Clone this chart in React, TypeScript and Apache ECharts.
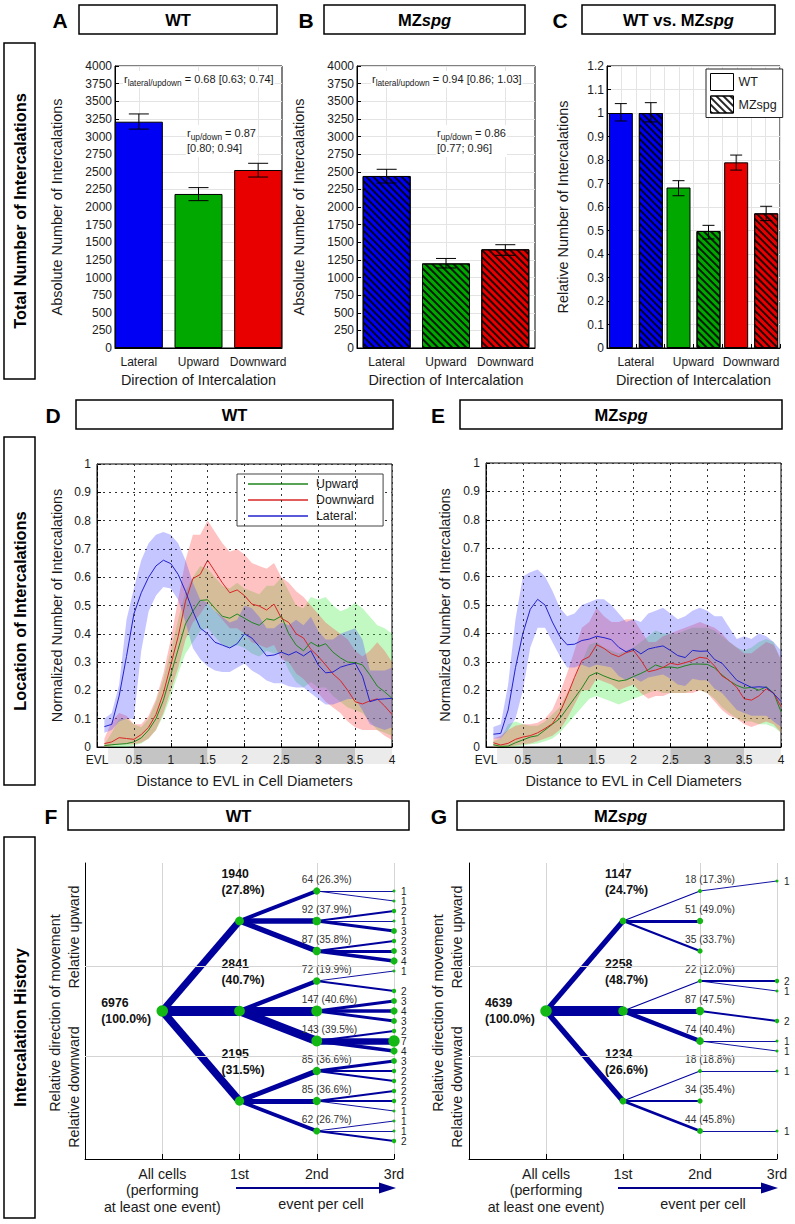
import React, { useEffect, useRef } from 'react';
import * as echarts from 'echarts';

const FONT = '"Liberation Sans", Arial, Helvetica, sans-serif';

// ---------------- Panels A–C : total number of intercalations ----------------
const directions = ['Lateral', 'Upward', 'Downward'];
const dirColors = ['#0000f5', '#00a800', '#e80000'];
const wtAbs = [3210, 2185, 2525];
const wtAbsLow = [3105, 2090, 2425];
const wtAbsHigh = [3320, 2275, 2620];
const mzAbs = [2440, 1200, 1400];
const mzAbsLow = [2340, 1135, 1315];
const mzAbsHigh = [2535, 1270, 1465];
const wtRel = [1.0, 0.683, 0.79];
const wtRelLow = [0.966, 0.648, 0.757];
const wtRelHigh = [1.04, 0.712, 0.821];
const mzRel = [1.0, 0.498, 0.573];
const mzRelLow = [0.962, 0.464, 0.542];
const mzRelHigh = [1.044, 0.522, 0.603];
const ratioWT = ['0.68 [0.63; 0.74]', '0.87', '[0.80; 0.94]'];
const ratioMZ = ['0.94 [0.86; 1.03]', '0.86', '[0.77; 0.96]'];

// ---------------- Panels D–E : location of intercalations ----------------
const distX = [0.1, 0.2, 0.3, 0.4, 0.5, 0.6, 0.7, 0.8, 0.9, 1.0, 1.1, 1.2, 1.3, 1.4, 1.5, 1.6, 1.7, 1.8, 1.9, 2.0,
  2.1, 2.2, 2.3, 2.4, 2.5, 2.6, 2.7, 2.8, 2.9, 3.0, 3.1, 3.2, 3.3, 3.4, 3.5, 3.6, 3.7, 3.8, 3.9, 4.0];
const stripSegments = [[0.15, 0.5, 0], [0.5, 1.5, 1], [1.5, 2.5, 0], [2.5, 3.5, 1], [3.5, 4, 0]];

// WT (D)
const dUpMean = [0.005, 0.008, 0.01, 0.012, 0.018, 0.032, 0.06, 0.1, 0.165, 0.255, 0.345, 0.435, 0.48, 0.518, 0.52, 0.49, 0.462, 0.455, 0.47, 0.455,
  0.44, 0.43, 0.453, 0.448, 0.463, 0.40, 0.36, 0.34, 0.37, 0.355, 0.365, 0.335, 0.315, 0.30, 0.298, 0.29, 0.255, 0.215, 0.195, 0.172];
const dUpLow = [0, 0, 0, 0, 0.005, 0.012, 0.03, 0.06, 0.11, 0.18, 0.26, 0.33, 0.37, 0.41, 0.42, 0.39, 0.36, 0.35, 0.36, 0.35,
  0.33, 0.32, 0.34, 0.33, 0.33, 0.27, 0.23, 0.21, 0.23, 0.21, 0.21, 0.18, 0.16, 0.14, 0.13, 0.12, 0.09, 0.06, 0.05, 0.04];
const dUpHigh = [0.01, 0.05, 0.10, 0.10, 0.08, 0.07, 0.10, 0.16, 0.24, 0.34, 0.45, 0.55, 0.60, 0.64, 0.63, 0.60, 0.57, 0.56, 0.58, 0.56,
  0.55, 0.54, 0.57, 0.57, 0.60, 0.55, 0.50, 0.49, 0.53, 0.52, 0.53, 0.50, 0.48, 0.49, 0.51, 0.49, 0.46, 0.43, 0.42, 0.40];
const dDownMean = [0.012, 0.018, 0.033, 0.03, 0.027, 0.044, 0.07, 0.115, 0.19, 0.29, 0.39, 0.515, 0.595, 0.61, 0.66, 0.62, 0.58, 0.545, 0.555, 0.535,
  0.505, 0.498, 0.484, 0.505, 0.455, 0.44, 0.40, 0.385, 0.345, 0.32, 0.29, 0.258, 0.235, 0.2, 0.16, 0.152, 0.163, 0.17, 0.145, 0.115];
const dDownLow = [0, 0.005, 0.01, 0.01, 0.01, 0.015, 0.03, 0.06, 0.12, 0.20, 0.28, 0.38, 0.44, 0.47, 0.51, 0.48, 0.45, 0.42, 0.42, 0.40,
  0.37, 0.36, 0.35, 0.36, 0.31, 0.30, 0.26, 0.24, 0.21, 0.19, 0.16, 0.14, 0.12, 0.09, 0.07, 0.06, 0.06, 0.06, 0.04, 0.025];
const dDownHigh = [0.03, 0.09, 0.12, 0.11, 0.08, 0.08, 0.11, 0.17, 0.26, 0.38, 0.52, 0.66, 0.75, 0.75, 0.80, 0.76, 0.72, 0.69, 0.70, 0.68,
  0.65, 0.64, 0.63, 0.65, 0.60, 0.58, 0.55, 0.53, 0.50, 0.47, 0.44, 0.42, 0.40, 0.38, 0.34, 0.32, 0.34, 0.37, 0.34, 0.30];
const dLatMean = [0.072, 0.08, 0.18, 0.32, 0.47, 0.545, 0.60, 0.64, 0.66, 0.648, 0.61, 0.55, 0.48, 0.42, 0.40, 0.37, 0.36, 0.35, 0.365, 0.40,
  0.385, 0.355, 0.322, 0.325, 0.335, 0.325, 0.337, 0.322, 0.34, 0.29, 0.262, 0.265, 0.282, 0.29, 0.296, 0.25, 0.16, 0.168, 0.17, 0.172];
const dLatLow = [0.05, 0.06, 0.09, 0.10, 0.10, 0.34, 0.48, 0.535, 0.565, 0.56, 0.52, 0.44, 0.35, 0.31, 0.285, 0.27, 0.265, 0.265, 0.28, 0.295,
  0.27, 0.255, 0.235, 0.225, 0.225, 0.215, 0.21, 0.21, 0.19, 0.17, 0.15, 0.15, 0.16, 0.17, 0.17, 0.13, 0.08, 0.07, 0.06, 0.07];
const dLatHigh = [0.10, 0.12, 0.22, 0.45, 0.56, 0.66, 0.72, 0.75, 0.76, 0.75, 0.72, 0.66, 0.58, 0.52, 0.51, 0.48, 0.46, 0.44, 0.45, 0.50,
  0.49, 0.46, 0.42, 0.42, 0.44, 0.43, 0.45, 0.43, 0.46, 0.41, 0.38, 0.38, 0.40, 0.41, 0.42, 0.38, 0.27, 0.27, 0.27, 0.28];

// MZspg (E)
const eUpMean = [0.008, 0.002, 0.003, 0.015, 0.025, 0.035, 0.04, 0.06, 0.08, 0.1, 0.136, 0.172, 0.208, 0.25, 0.262, 0.25, 0.24, 0.232, 0.236, 0.248,
  0.259, 0.272, 0.289, 0.28, 0.282, 0.278, 0.286, 0.292, 0.292, 0.291, 0.278, 0.254, 0.233, 0.217, 0.207, 0.21, 0.2, 0.212, 0.19, 0.124];
const eUpLow = [0, 0, 0, 0, 0.005, 0.01, 0.012, 0.02, 0.03, 0.05, 0.08, 0.11, 0.14, 0.17, 0.18, 0.17, 0.16, 0.15, 0.16, 0.17,
  0.18, 0.19, 0.2, 0.19, 0.19, 0.19, 0.19, 0.2, 0.2, 0.19, 0.17, 0.14, 0.12, 0.1, 0.09, 0.09, 0.08, 0.08, 0.07, 0.05];
const eUpHigh = [0.02, 0.03, 0.08, 0.09, 0.08, 0.075, 0.075, 0.09, 0.115, 0.14, 0.19, 0.24, 0.3, 0.36, 0.37, 0.35, 0.34, 0.33, 0.34, 0.35,
  0.37, 0.39, 0.41, 0.4, 0.4, 0.40, 0.41, 0.42, 0.42, 0.42, 0.41, 0.39, 0.37, 0.35, 0.34, 0.35, 0.37, 0.38, 0.37, 0.3];
const eDownMean = [0.015, 0.007, 0.013, 0.027, 0.035, 0.04, 0.05, 0.065, 0.082, 0.12, 0.18, 0.245, 0.305, 0.318, 0.36, 0.347, 0.328, 0.318, 0.332, 0.34,
  0.306, 0.265, 0.271, 0.28, 0.295, 0.29, 0.297, 0.305, 0.316, 0.312, 0.285, 0.25, 0.234, 0.21, 0.17, 0.165, 0.18, 0.205, 0.19, 0.142];
const eDownLow = [0, 0, 0, 0.005, 0.01, 0.012, 0.02, 0.03, 0.04, 0.06, 0.1, 0.15, 0.2, 0.2, 0.24, 0.23, 0.22, 0.2, 0.21, 0.22,
  0.19, 0.17, 0.18, 0.18, 0.19, 0.19, 0.19, 0.19, 0.2, 0.19, 0.16, 0.13, 0.11, 0.1, 0.08, 0.07, 0.08, 0.09, 0.08, 0.05];
const eDownHigh = [0.03, 0.04, 0.06, 0.075, 0.08, 0.08, 0.085, 0.1, 0.13, 0.19, 0.26, 0.34, 0.42, 0.44, 0.49, 0.46, 0.44, 0.44, 0.45, 0.45,
  0.41, 0.37, 0.37, 0.39, 0.40, 0.41, 0.42, 0.43, 0.44, 0.43, 0.42, 0.40, 0.37, 0.35, 0.33, 0.33, 0.35, 0.37, 0.36, 0.31];
const eLatMean = [0.045, 0.048, 0.13, 0.28, 0.40, 0.485, 0.52, 0.50, 0.44, 0.39, 0.36, 0.362, 0.375, 0.38, 0.39, 0.385, 0.378, 0.351, 0.335, 0.346,
  0.328, 0.345, 0.351, 0.356, 0.34, 0.322, 0.315, 0.34, 0.337, 0.338, 0.308, 0.295, 0.265, 0.235, 0.222, 0.21, 0.212, 0.21, 0.188, 0.16];
const eLatLow = [0.03, 0.03, 0.06, 0.10, 0.20, 0.35, 0.42, 0.42, 0.37, 0.32, 0.28, 0.28, 0.29, 0.28, 0.29, 0.285, 0.28, 0.25, 0.235, 0.245,
  0.23, 0.245, 0.25, 0.255, 0.24, 0.22, 0.215, 0.24, 0.235, 0.235, 0.205, 0.19, 0.16, 0.13, 0.12, 0.11, 0.11, 0.11, 0.09, 0.07];
const eLatHigh = [0.07, 0.08, 0.22, 0.45, 0.60, 0.615, 0.625, 0.60, 0.55, 0.49, 0.46, 0.47, 0.50, 0.51, 0.52, 0.52, 0.50, 0.47, 0.44, 0.45,
  0.44, 0.47, 0.48, 0.49, 0.47, 0.45, 0.46, 0.48, 0.49, 0.48, 0.46, 0.46, 0.42, 0.38, 0.39, 0.38, 0.40, 0.39, 0.37, 0.34];

// ---------------- Panels F–G : intercalation history ----------------
const eventLabels = ['', 'All cells\n(performing\nat least one event)', '1st', '2nd', '3rd'];
const wtRoot = 6976;
const wtL1 = [1940, 2841, 2195];
const wtL1Pct = [27.8, 40.7, 31.5];
const wtL2 = [64, 92, 87, 72, 147, 143, 85, 85, 62];
const wtL2Pct = [26.3, 37.9, 35.8, 19.9, 40.6, 39.5, 36.6, 36.6, 26.7];
const wtL3 = [0, 1, 1, 2, 1, 3, 2, 3, 4, 1, 0, 2, 3, 4, 3, 2, 7, 4, 3, 2, 2, 2, 2, 1, 1, 1, 2];
const mzRoot = 4639;
const mzL1 = [1147, 2258, 1234];
const mzL1Pct = [24.7, 48.7, 26.6];
const mzL2 = [18, 51, 35, 22, 87, 74, 18, 34, 44];
const mzL2Pct = [17.3, 49.0, 33.7, 12.0, 47.5, 40.4, 18.8, 35.4, 45.8];
const mzL3 = [1, 0, 0, 0, 0, 0, 0, 0, 0, 0, 2, 1, 0, 0, 2, 0, 1, 1, 0, 1, 0, 0, 0, 0, 0, 1, 0];

// ------------------------------------------------------------------
const TXT = '#1a1a1a';
const hatch = {
  symbol: 'rect', symbolSize: 1, color: 'rgba(0,0,0,0.85)',
  dashArrayX: [1, 0], dashArrayY: [1.1, 2.6], rotation: Math.PI / 4,
};

const errRender = (half: number, off: number) => (params: any, api: any) => {
  const x = api.value(0);
  const lo = api.coord([x, api.value(1)]);
  const hi = api.coord([x, api.value(2)]);
  const cx = lo[0] + off;
  const st = { stroke: '#000', lineWidth: 1 };
  return {
    type: 'group',
    children: [
      { type: 'line', shape: { x1: cx, y1: lo[1], x2: cx, y2: hi[1] }, style: st },
      { type: 'line', shape: { x1: cx - half, y1: hi[1], x2: cx + half, y2: hi[1] }, style: st },
      { type: 'line', shape: { x1: cx - half, y1: lo[1], x2: cx + half, y2: lo[1] }, style: st },
    ],
  };
};

const bandRender = (fill: string) => (params: any, api: any) => {
  if (params.dataIndex !== 0) return null;
  const n = params.dataInsideLength;
  const up: number[][] = [];
  const lo: number[][] = [];
  for (let i = 0; i < n; i++) {
    const x = api.value(0, i);
    up.push(api.coord([x, api.value(2, i)]));
    lo.push(api.coord([x, api.value(1, i)]));
  }
  return { type: 'polygon', shape: { points: up.concat(lo.reverse()) }, style: { fill, stroke: 'none' } };
};

const stripRender = (params: any, api: any) => {
  const a = api.coord([api.value(0), 1]);
  const b = api.coord([api.value(1), 0]);
  return {
    type: 'rect',
    shape: { x: a[0], y: a[1], width: b[0] - a[0], height: b[1] - a[1] },
    style: { fill: api.value(2) ? '#c4c4c4' : '#ebebeb' },
  };
};

const LEVEL_STEP = [9, 3, 1];
function buildTree(prefix: string, root: number, l1: number[], l1p: number[], l2: number[], l2p: number[], l3: number[]) {
  const nodes: any[] = [];
  const links: any[] = [];
  const maxL1 = Math.max(...l1);
  const dir = (j: number) => 1 - j;
  const baseLabel = { show: true, position: 'inside', align: 'left', verticalAlign: 'middle', fontFamily: FONT };
  const l1Label = { ...baseLabel, fontSize: 12.3, fontWeight: 'bold', lineHeight: 15.5, color: '#111' };
  nodes.push({
    name: prefix + 'root', value: [0, 0], symbolSize: 11.5,
    label: { ...l1Label, lineHeight: 16, formatter: `${root}\n(100.0%)`, offset: [-61, 0] },
  });
  l1.forEach((c1, i) => {
    const y1 = LEVEL_STEP[0] * dir(i);
    const n1 = nodes.length;
    nodes.push({
      name: prefix + 'a' + i, value: [1, y1], symbolSize: 0.2 * Math.sqrt(c1),
      label: { ...l1Label, formatter: `${c1}\n(${l1p[i].toFixed(1)}%)`, offset: [-18, -39] },
    });
    links.push({ source: 0, target: n1, lineStyle: { width: (10 * c1) / maxL1 } });
    for (let j = 0; j < 3; j++) {
      const k = i * 3 + j;
      const c2 = l2[k];
      const y2 = y1 + LEVEL_STEP[1] * dir(j);
      const n2 = nodes.length;
      nodes.push({
        name: prefix + 'b' + k, value: [2, y2], symbolSize: 0.9 * Math.sqrt(c2),
        label: { ...baseLabel, fontSize: 10.2, color: '#333', formatter: `${c2} (${l2p[k].toFixed(1)}%)`, offset: [-15, -12] },
      });
      links.push({ source: n1, target: n2, lineStyle: { width: Math.max(0.8, 0.06 * c2) } });
      for (let m = 0; m < 3; m++) {
        const c3 = l3[k * 3 + m];
        if (!c3) continue;
        const y3 = y2 + LEVEL_STEP[2] * dir(m);
        const n3 = nodes.length;
        nodes.push({
          name: prefix + 'c' + k + '_' + m, value: [3, y3], symbolSize: 1.6 + 1.4 * c3,
          label: { ...baseLabel, fontSize: 10, color: '#222', formatter: String(c3), offset: [7, 0] },
        });
        links.push({ source: n2, target: n3, lineStyle: { width: Math.max(0.8, 0.93 * c3) } });
      }
    }
  });
  return { nodes, links };
}

function buildOption() {
  const tick = { color: TXT, fontSize: 12, fontFamily: FONT };
  const nameStyle = { color: TXT, fontSize: 14.4, fontFamily: FONT };
  const axLine = { show: true, onZero: false, lineStyle: { color: '#000', width: 1 } };
  const inTick = { show: true, inside: true, length: 4, lineStyle: { color: '#000' } };
  const lightSplit = { show: true, lineStyle: { color: '#e4e4e4', width: 1 } };
  const dotSplit = { show: true, lineStyle: { color: '#333', width: 1, type: [2, 4] } };

  const gridBox = { show: true, borderColor: '#000', borderWidth: 1, backgroundColor: 'transparent', outerBoundsMode: 'none', containLabel: false };
  const gridPlain = { show: false, outerBoundsMode: 'none', containLabel: false };
  const grid = [
    { ...gridBox, left: 115, top: 66, width: 167, height: 282 }, // 0 A
    { ...gridBox, left: 357, top: 66, width: 178, height: 282 }, // 1 B
    { ...gridBox, left: 607, top: 66, width: 173, height: 282 }, // 2 C
    { ...gridBox, left: 97, top: 464, width: 295, height: 283 }, // 3 D
    { ...gridPlain, left: 97, top: 747, width: 295, height: 17 }, // 4 D strip
    { ...gridBox, left: 486, top: 463, width: 295, height: 284 }, // 5 E
    { ...gridPlain, left: 486, top: 747, width: 295, height: 17 }, // 6 E strip
    { ...gridPlain, left: 85, top: 863, width: 309, height: 296 }, // 7 F
    { ...gridPlain, left: 469, top: 863, width: 308, height: 296 }, // 8 G
  ];

  const catLabel = (v: number) => directions[Math.round(v) - 1] ?? '';
  const barX = (gridIndex: number, min: number, max: number, fineGrid: boolean) => ({
    type: 'value', gridIndex, min, max,
    ...(fineGrid ? { interval: 0.25 } : {}),
    name: 'Direction of Intercalation', nameLocation: 'middle', nameGap: 24.5, nameTextStyle: nameStyle, nameMoveOverlap: false,
    axisLine: axLine,
    axisTick: fineGrid ? inTick : { ...inTick, customValues: [1, 2, 3] },
    axisLabel: { ...tick, margin: 8, customValues: [1, 2, 3], formatter: catLabel },
    splitLine: lightSplit,
  });
  const valY = (gridIndex: number, max: number, interval: number, name: string, nameGap: number, split: any, margin: number) => ({
    type: 'value', gridIndex, min: 0, max, interval,
    name, nameLocation: 'middle', nameGap, nameTextStyle: nameStyle, nameMoveOverlap: false,
    axisLine: axLine, axisTick: inTick,
    axisLabel: { ...tick, margin, formatter: (v: number) => String(Math.round(v * 1000) / 1000) },
    splitLine: split,
  });
  const distXAxis = (gridIndex: number) => ({
    type: 'value', gridIndex, min: 0, max: 4, interval: 0.5, z: 5,
    name: 'Distance to EVL in Cell Diameters', nameLocation: 'middle', nameGap: 26.5, nameTextStyle: nameStyle, nameMoveOverlap: false,
    axisLine: axLine, axisTick: inTick,
    axisLabel: { ...tick, margin: 7, formatter: (v: number) => (v === 0 ? 'EVL' : String(v)) },
    splitLine: dotSplit,
  });
  const hidden = (gridIndex: number, min: number, max: number) => ({ type: 'value', gridIndex, min, max, show: false });
  const eventXAxis = (gridIndex: number) => ({
    type: 'value', gridIndex, min: -1, max: 3, interval: 1,
    axisLine: axLine, axisTick: { ...inTick, length: 5 },
    axisLabel: { color: TXT, fontFamily: FONT, fontSize: 14.2, lineHeight: 16.3, margin: 7, formatter: (v: number) => eventLabels[Math.round(v) + 1] ?? '' },
    splitLine: { show: true, lineStyle: { color: '#d4d4d4', width: 1 } },
  });
  const eventYAxis = (gridIndex: number) => ({
    type: 'value', gridIndex, min: -14.8, max: 14.8,
    axisLine: axLine, axisTick: { show: false }, axisLabel: { show: false }, splitLine: { show: false },
  });

  const xAxis = [
    barX(0, 0.6, 3.4, false),
    barX(1, 0.5, 3.5, false),
    barX(2, 0.5, 3.5, true),
    distXAxis(3),
    hidden(4, 0, 4),
    distXAxis(5),
    hidden(6, 0, 4),
    eventXAxis(7),
    eventXAxis(8),
  ];
  const yAxis = [
    valY(0, 4000, 250, 'Absolute Number of Intercalations', 51, lightSplit, 3),
    valY(1, 4000, 250, 'Absolute Number of Intercalations', 51, lightSplit, 3),
    valY(2, 1.2, 0.1, 'Relative Number of Intercalations', 37, lightSplit, 3),
    valY(3, 1, 0.1, 'Normalized Number of Intercalations', 33, dotSplit, 6),
    hidden(4, 0, 1),
    valY(5, 1, 0.1, 'Normalized Number of Intercalations', 34, dotSplit, 6),
    hidden(6, 0, 1),
    eventYAxis(7),
    eventYAxis(8),
  ];

  const series: any[] = [];
  const barSeries = (name: string, axis: number, vals: number[], width: number, decal: any) => ({
    type: 'bar', name, xAxisIndex: axis, yAxisIndex: axis, barWidth: width, barGap: '25%', z: 2,
    itemStyle: { borderColor: '#000', borderWidth: 1, ...(decal ? { decal } : {}) },
    data: vals.map((v, i) => ({
      value: [i + 1, v],
      itemStyle: { color: dirColors[i], borderColor: '#000', borderWidth: 1, ...(decal ? { decal } : {}) },
    })),
  });
  const errSeries = (axis: number, lo: number[], hi: number[], half: number, off: number) => ({
    type: 'custom', xAxisIndex: axis, yAxisIndex: axis, z: 4, silent: true,
    renderItem: errRender(half, off),
    encode: { x: 0, y: [1, 2] },
    data: lo.map((l, i) => [i + 1, l, hi[i]]),
  });
  series.push(barSeries('WT total', 0, wtAbs, 48, null));
  series.push(errSeries(0, wtAbsLow, wtAbsHigh, 10, 0));
  series.push(barSeries('MZspg total', 1, mzAbs, 48, hatch));
  series.push(errSeries(1, mzAbsLow, mzAbsHigh, 10, 0));
  series.push(barSeries('WT', 2, wtRel, 24, null));
  series.push(barSeries('MZspg', 2, mzRel, 24, hatch));
  series.push(errSeries(2, wtRelLow, wtRelHigh, 6, -15));
  series.push(errSeries(2, mzRelLow, mzRelHigh, 6, 15));

  const lineCols = { Upward: '#1f861f', Downward: '#d82626', Lateral: '#2222cc' } as Record<string, string>;
  const bandCols = { Upward: 'rgba(70,235,70,0.33)', Downward: 'rgba(255,70,70,0.33)', Lateral: 'rgba(80,80,255,0.33)' } as Record<string, string>;
  const addLoc = (axis: number, sets: [string, number[], number[], number[]][]) => {
    sets.forEach(([name, , lo, hi]) => {
      series.push({
        type: 'custom', xAxisIndex: axis, yAxisIndex: axis, z: 1, silent: true, clip: true,
        renderItem: bandRender(bandCols[name]),
        encode: { x: 0, y: [1, 2] },
        data: distX.map((x, i) => [x, lo[i], hi[i]]),
      });
    });
    sets.forEach(([name, mean]) => {
      series.push({
        type: 'line', name, xAxisIndex: axis, yAxisIndex: axis, z: 3, silent: true,
        symbol: 'none', showSymbol: false,
        lineStyle: { color: lineCols[name], width: 1 }, itemStyle: { color: lineCols[name] },
        data: distX.map((x, i) => [x, mean[i]]),
      });
    });
  };
  addLoc(3, [
    ['Upward', dUpMean, dUpLow, dUpHigh],
    ['Downward', dDownMean, dDownLow, dDownHigh],
    ['Lateral', dLatMean, dLatLow, dLatHigh],
  ]);
  addLoc(5, [
    ['Upward', eUpMean, eUpLow, eUpHigh],
    ['Downward', eDownMean, eDownLow, eDownHigh],
    ['Lateral', eLatMean, eLatLow, eLatHigh],
  ]);
  [4, 6].forEach((axis) => {
    series.push({
      type: 'custom', xAxisIndex: axis, yAxisIndex: axis, z: 0, silent: true,
      renderItem: stripRender, encode: { x: [0, 1] }, data: stripSegments,
    });
  });

  const groupBound = LEVEL_STEP[0] / 2;
  const addTree = (axis: number, prefix: string, tree: { nodes: any[]; links: any[] }) => {
    series.push({
      type: 'line', xAxisIndex: axis, yAxisIndex: axis, data: [[-1, 0]], symbol: 'none', showSymbol: false,
      lineStyle: { opacity: 0 }, silent: true, z: 1,
      markLine: {
        silent: true, symbol: ['none', 'none'], label: { show: false },
        lineStyle: { color: '#d4d4d4', type: 'solid', width: 1 },
        data: [{ yAxis: groupBound }, { yAxis: -groupBound }],
      },
    });
    series.push({
      type: 'graph', name: prefix + 'tree', coordinateSystem: 'cartesian2d', xAxisIndex: axis, yAxisIndex: axis,
      layout: 'none', silent: true, z: 3, symbol: 'circle',
      itemStyle: { color: '#14b814' },
      lineStyle: { color: '#00009c', opacity: 1, curveness: 0 },
      emphasis: { disabled: true },
      data: tree.nodes, links: tree.links,
    });
  };
  addTree(7, 'F', buildTree('F', wtRoot, wtL1, wtL1Pct, wtL2, wtL2Pct, wtL3));
  addTree(8, 'G', buildTree('G', mzRoot, mzL1, mzL1Pct, mzL2, mzL2Pct, mzL3));

  const legend = [
    {
      orient: 'vertical', left: 706, top: 69, padding: [4, 6, 4, 4], itemGap: 4.5, itemWidth: 23, itemHeight: 17,
      icon: 'rect', selectedMode: false, borderColor: '#222', borderWidth: 1, backgroundColor: '#fff',
      textStyle: { fontSize: 12.5, color: TXT, fontFamily: FONT },
      data: [
        { name: 'WT', itemStyle: { color: '#fff', borderColor: '#000', borderWidth: 1 } },
        { name: 'MZspg', itemStyle: { color: '#fff', borderColor: '#000', borderWidth: 1, decal: hatch } },
      ],
    },
    {
      orient: 'vertical', left: 237, top: 474, padding: [4, 9, 4, 11], itemGap: 4, itemWidth: 60, itemHeight: 1.3,
      icon: 'rect', selectedMode: false, borderColor: '#444', borderWidth: 1, backgroundColor: '#fff',
      textStyle: { fontSize: 12.3, color: TXT, fontFamily: FONT, padding: [0, 0, 0, 3] },
      data: ['Upward', 'Downward', 'Lateral'],
    },
  ];

  // ---------- graphic decorations ----------
  const g: any[] = [];
  const box = (x: number, y: number, w: number, h: number) =>
    g.push({ type: 'rect', shape: { x, y, width: w, height: h }, style: { fill: '#fff', stroke: '#000', lineWidth: 1.5 }, z: 0 });
  const txt = (x: number, y: number, text: string, extra: any = {}, rotation = 0) =>
    g.push({
      type: 'text', x, y, rotation, z: 60,
      style: { text, fontFamily: FONT, fontSize: 14.4, fill: TXT, align: 'center', verticalAlign: 'middle', ...extra },
    });
  const headRich = {
    b: { fontFamily: FONT, fontSize: 16.5, fontWeight: 'bold', fill: '#000' },
    i: { fontFamily: FONT, fontSize: 16.5, fontWeight: 'bold', fontStyle: 'italic', fill: '#000' },
  };
  const header = (letter: string, lx: number, x: number, y: number, w: number, rich: string) => {
    txt(lx, y + 15, letter, { fontSize: 21, fontWeight: 'bold', fill: '#000' });
    box(x, y, w, 29);
    g.push({
      type: 'text', x: x + w / 2, y: y + 15, z: 60,
      style: { text: rich, rich: headRich, align: 'center', verticalAlign: 'middle' },
    });
  };
  header('A', 60, 79, 5, 198, '{b|WT}');
  header('B', 306, 324, 5, 201, '{b|MZ}{i|spg}');
  header('C', 560, 582, 5, 193, '{b|WT vs. MZ}{i|spg}');
  header('D', 53, 76, 400, 317, '{b|WT}');
  header('E', 438, 460, 400, 322, '{b|MZ}{i|spg}');
  header('F', 51, 68, 801, 341, '{b|WT}');
  header('G', 439, 457, 801, 327, '{b|MZ}{i|spg}');

  const side = (y: number, h: number, label: string) => {
    box(4, y, 31, h);
    txt(20, y + h / 2, label, { fontSize: 16.4, fontWeight: 'bold', fill: '#000' }, Math.PI / 2);
  };
  side(43, 336, 'Total Number of Intercalations');
  side(437, 348, 'Location of Intercalations');
  side(837, 381, 'Intercalation History');

  // ratio annotations
  const annRich = {
    r: { fontFamily: FONT, fontSize: 11, fill: TXT, lineHeight: 15.5 },
    s: { fontFamily: FONT, fontSize: 8.3, fill: TXT, lineHeight: 6, verticalAlign: 'bottom' },
    n: { fontFamily: FONT, fontSize: 11, fill: TXT, lineHeight: 15.5 },
  };
  const ann = (x: number, y: number, text: string) =>
    g.push({
      type: 'text', x, y, z: 60,
      style: { text, rich: annRich, align: 'left', verticalAlign: 'top', backgroundColor: '#fff', padding: [0, 1, 1, 1] },
    });
  ann(123, 71, `{r|r}{s|lateral/updown}{n| = ${ratioWT[0]}}`);
  ann(186, 125, `{r|r}{s|up/down}{n| = ${ratioWT[1]}}\n{n|${ratioWT[2]}}`);
  ann(371, 71, `{r|r}{s|lateral/updown}{n| = ${ratioMZ[0]}}`);
  ann(436, 125, `{r|r}{s|up/down}{n| = ${ratioMZ[1]}}\n{n|${ratioMZ[2]}}`);

  // F / G direction labels
  const dirLabels = (xIn: number, xOut: number) => {
    txt(xIn, 937, 'Relative upward', {}, Math.PI / 2);
    txt(xIn, 1087, 'Relative downward', {}, Math.PI / 2);
    txt(xOut, 1013, 'Relative direction of movement', {}, Math.PI / 2);
  };
  dirLabels(74, 55);
  dirLabels(457, 438);

  // event arrows
  const arrow = (x1: number, x2: number) => {
    g.push({ type: 'line', shape: { x1, y1: 1188, x2: x2 - 14, y2: 1188 }, style: { stroke: '#00008b', lineWidth: 2.2 }, z: 60 });
    g.push({
      type: 'polygon', shape: { points: [[x2 - 17, 1182.5], [x2, 1188], [x2 - 17, 1193.5]] },
      style: { fill: '#00008b', stroke: 'none' }, z: 60,
    });
    txt((x1 + x2) / 2 + 5, 1203.5, 'event per cell');
  };
  arrow(236, 396);
  arrow(618, 778);

  return {
    animation: false,
    backgroundColor: '#fff',
    textStyle: { fontFamily: FONT },
    grid, xAxis, yAxis, series, legend, graphic: g,
  };
}

export default function App() {
  const ref = useRef<HTMLDivElement>(null);
  useEffect(() => {
    const chart = echarts.init(ref.current as HTMLDivElement, undefined, { renderer: 'svg' });
    chart.setOption(buildOption() as any);
    return () => chart.dispose();
  }, []);
  return (
    <div
      ref={ref}
      style={{ position: 'absolute', left: 0, top: 0, width: 795, height: 1224, background: '#fff' }}
    />
  );
}
